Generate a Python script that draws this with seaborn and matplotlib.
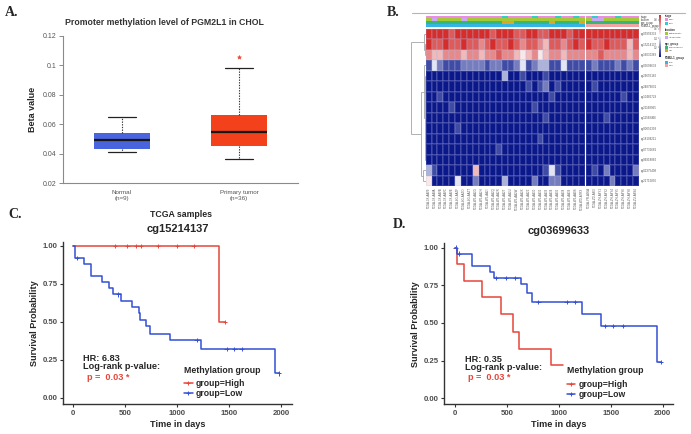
import numpy as np
import pandas as pd
import matplotlib
matplotlib.use('Agg')
import matplotlib.pyplot as plt
from matplotlib.colors import LinearSegmentedColormap, ListedColormap
from matplotlib.lines import Line2D
from matplotlib.patches import Rectangle
import seaborn as sns

W, H = 691, 434

# ---------------- A: boxplot statistics
box_groups = ['Normal\n(n=9)', 'Primary tumor\n(n=36)']
box_med = [0.049, 0.055]
box_q1 = [0.043, 0.045]
box_q3 = [0.054, 0.066]
box_lo = [0.041, 0.036]
box_hi = [0.065, 0.098]
box_out = [[], [0.106]]
box_colors = ['#4A64DE', '#F2411B']

# ---------------- B: heatmap (digits = beta value * 10), 27 low + 9 high samples
probes = ['cg05959333', 'cg15214137', 'cg16030369', 'cg03699633', 'cg26655182',
          'cg24879831', 'cg10486729', 'cg21168965', 'cg11569466', 'cg00056393',
          'cg18104211', 'cg07736681', 'cg06918882', 'cg02375408', 'cg21715896']
beta_rows = [
    '999989999998999889988999899' + '999999999',
    '988988988789889878876887898' + '988988868',
    '766777677677877656756776777' + '778777767',
    '142111222212211241233114111' + '121112121',
    '000000000000030010001000000' + '000000000',
    '000000000000000001012010000' + '010000000',
    '001000000000000000000100000' + '000000100',
    '000010000000000000100000000' + '000000000',
    '000000000000000000001000000' + '000100000',
    '000001000000000000000000000' + '000000000',
    '000000000000000000010000000' + '000000000',
    '000000000000100000000000000' + '000000000',
    '000000000000000000000000000' + '000000000',
    '310000006000000000001410000' + '010200002',
    '500004002000030000200220000' + '000020000',
]
samples = ['TCGA-3X-AAV9', 'TCGA-3X-AAVA', 'TCGA-3X-AAVB', 'TCGA-3X-AAVC', 'TCGA-3X-AAVE',
           'TCGA-4G-AAZF', 'TCGA-4G-AAZO', 'TCGA-4G-AAZT', 'TCGA-W5-AA2G', 'TCGA-W5-AA2H',
           'TCGA-W5-AA2I', 'TCGA-W5-AA2Q', 'TCGA-W5-AA2R', 'TCGA-W5-AA2T', 'TCGA-W5-AA2U',
           'TCGA-W5-AA2W', 'TCGA-W5-AA2X', 'TCGA-W5-AA2Z', 'TCGA-W5-AA30', 'TCGA-W5-AA31',
           'TCGA-W5-AA33', 'TCGA-W5-AA34', 'TCGA-W5-AA36', 'TCGA-W5-AA38', 'TCGA-W5-AA39',
           'TCGA-W6-AA0S', 'TCGA-WD-A7RX', 'TCGA-YR-A95A', 'TCGA-ZD-A8I3', 'TCGA-ZH-A8Y1',
           'TCGA-ZH-A8Y2', 'TCGA-ZH-A8Y4', 'TCGA-ZH-A8Y5', 'TCGA-ZH-A8Y6', 'TCGA-ZH-A8Y8',
           'TCGA-ZU-A8S4']
n_low = 27
ann_names = ['stage', 'location', 'age_group', 'PGM2L1_group']
ann_stage = '000000000000010000100010010010001000'
ann_location = '010000100000000000000000000011000000'
ann_age = '000000000000011000000100001000000000'
ann_group = '0' * n_low + '1' * 9
ann_levels = [['Early', 'Late'], ['Extrahepatic', 'Intrahepatic'],
              ['Young/middle', 'Old'], ['Low', 'High']]
ann_colors = ['#EE8CE2', '#33CCCC', '#A3C933', '#C9A8F2',
              '#33B878', '#DDA624', '#35B4E6', '#F2A4A4']

# ---------------- C / D: Kaplan-Meier step points and censor times
c_high_t = [0, 1408, 1466]
c_high_s = [1.0, 0.5, 0.5]
c_high_cens = [406, 526, 612, 658, 816, 1000, 1160, 1460]
c_low_t = [0, 19, 108, 179, 281, 348, 390, 460, 566, 633, 646, 703, 742, 934, 1228, 1945, 1985]
c_low_s = [1.0, 0.92, 0.88, 0.80, 0.76, 0.72, 0.68, 0.64, 0.60, 0.56, 0.515, 0.47, 0.42,
           0.38, 0.32, 0.16, 0.16]
c_low_cens = [44, 438, 1190, 1478, 1552, 1622, 1982]

d_high_t = [0, 16, 90, 263, 440, 556, 617, 925, 1043]
d_high_s = [1.0, 0.89, 0.78, 0.67, 0.56, 0.44, 0.33, 0.22, 0.22]
d_high_cens = []
d_low_t = [0, 16, 167, 337, 379, 636, 690, 738, 1220, 1404, 1943, 1982]
d_low_s = [1.0, 0.96, 0.88, 0.84, 0.80, 0.76, 0.70, 0.64, 0.56, 0.48, 0.24, 0.24]
d_low_cens = [6, 39, 395, 491, 581, 803, 1076, 1156, 1445, 1525, 1616, 1980]

km_pal = {'group=High': '#E6473B', 'group=Low': '#3450D4'}

sns.set_style('white')
plt.rcParams['font.family'] = ['Liberation Sans', 'DejaVu Sans']

fig = plt.figure(figsize=(W / 100, H / 100), dpi=100)


def rect(x0, y0, x1, y1):
    # pixel box (top-left origin) -> figure fraction
    return [x0 / W, 1 - y1 / H, (x1 - x0) / W, (y1 - y0) / H]


def letter(x, y, s):
    fig.text(x / W, 1 - y / H, s, family=['Liberation Serif'], fontweight='bold',
             fontsize=10, va='center', ha='left')


# ================= A
axA = fig.add_axes(rect(63, 36, 298, 183))
stats = []
for i in range(2):
    stats.append(dict(med=box_med[i], q1=box_q1[i], q3=box_q3[i], whislo=box_lo[i],
                      whishi=box_hi[i], fliers=box_out[i], label=box_groups[i]))
bp = axA.bxp(stats, positions=[0, 1], widths=0.48, patch_artist=True, capwidths=0.24,
             boxprops=dict(linewidth=0),
             medianprops=dict(color='#151515', linewidth=1.6),
             whiskerprops=dict(color='#333333', linewidth=0.8, linestyle=(0, (1.2, 1.2))),
             capprops=dict(color='#222222', linewidth=0.9),
             flierprops=dict(marker='*', markersize=3, markerfacecolor='#E8453C',
                             markeredgecolor='#E8453C', markeredgewidth=0.4))
for patch, col in zip(bp['boxes'], box_colors):
    patch.set_facecolor(col)
axA.set_xlim(-0.5, 1.5)
axA.set_ylim(0.02, 0.12)
axA.set_yticks([0.02, 0.04, 0.06, 0.08, 0.1, 0.12])
axA.set_yticklabels(['0.02', '0.04', '0.06', '0.08', '0.1', '0.12'])
for sp in ['top', 'right']:
    axA.spines[sp].set_visible(False)
for sp in ['left', 'bottom']:
    axA.spines[sp].set_color('#8a8a8a')
    axA.spines[sp].set_linewidth(0.8)
axA.tick_params(axis='y', length=3, width=0.7, color='#8a8a8a', labelsize=5,
                labelcolor='#555555', pad=1.5, left=True)
axA.tick_params(axis='x', length=0, labelsize=4.5, labelcolor='#555555', pad=5)
for lab in axA.get_xticklabels():
    lab.set_linespacing(1.3)
axA.set_ylabel('Beta value', fontsize=6.5, fontweight='bold')
axA.yaxis.set_label_coords(-0.11, 0.5)
axA.set_xlabel('TCGA samples', fontsize=6.3, fontweight='bold')
axA.xaxis.set_label_coords(0.502, -0.185)
fig.text(164 / W, 1 - 22.7 / H, 'Promoter methylation level of PGM2L1 in CHOL',
         fontsize=6.3, fontweight='bold', color='#333333', ha='center', va='center')
letter(5, 13, 'A.')

# ================= B
beta = np.array([[int(c) / 10 for c in r] for r in beta_rows])
beta_df = pd.DataFrame(beta, index=probes, columns=samples)
ann_codes = np.array([[int(c) + 2 * k for c in s] for k, s in
                      enumerate([ann_stage, ann_location, ann_age, ann_group])])
ann_df = pd.DataFrame(ann_codes, index=ann_names, columns=samples)
heat_cmap = LinearSegmentedColormap.from_list('nwr', ['#0a188a', '#ffffff', '#d42d2a'])
ann_cmap = ListedColormap(ann_colors)

x0, xg, x1 = 425.7, 584.7, 586.0
xe = 639.0
axHL = fig.add_axes(rect(x0, 28.7, xg, 186))
axHR = fig.add_axes(rect(x1, 28.7, xe, 186))
axAL = fig.add_axes(rect(x0, 15.5, xg, 27.2))
axAR = fig.add_axes(rect(x1, 15.5, xe, 27.2))
cax = fig.add_axes(rect(658.7, 15, 661, 56.7))
grid_col = (0.7, 0.72, 0.9, 0.18)

sns.heatmap(beta_df.iloc[:, :n_low], ax=axHL, cmap=heat_cmap, vmin=0, vmax=0.9,
            cbar=False, linewidths=0.12, linecolor=grid_col,
            xticklabels=samples[:n_low], yticklabels=False)
sns.heatmap(beta_df.iloc[:, n_low:], ax=axHR, cmap=heat_cmap, vmin=0, vmax=0.9,
            cbar=True, cbar_ax=cax, linewidths=0.12, linecolor=grid_col,
            xticklabels=samples[n_low:], yticklabels=probes)
sns.heatmap(ann_df.iloc[:, :n_low], ax=axAL, cmap=ann_cmap, vmin=-0.5, vmax=7.5,
            cbar=False, xticklabels=False, yticklabels=False)
sns.heatmap(ann_df.iloc[:, n_low:], ax=axAR, cmap=ann_cmap, vmin=-0.5, vmax=7.5,
            cbar=False, xticklabels=False, yticklabels=False)
for ax in [axHL, axHR]:
    ax.tick_params(axis='x', labelsize=2.1, length=0, labelcolor='#555555', pad=1,
                   labelrotation=90)
    ax.set_xlabel('')
    ax.set_ylabel('')
axHR.yaxis.tick_right()
axHR.tick_params(axis='y', labelsize=2.1, length=0, labelcolor='#555555', pad=1,
                 labelrotation=0)
cax.yaxis.tick_left()
cax.tick_params(labelsize=1.8, length=0.8, width=0.3, pad=0.4, labelcolor='#555555')
cax.set_yticks([0.2, 0.4, 0.6, 0.8])
for sp in cax.spines.values():
    sp.set_visible(False)

# row dendrogram
axD = fig.add_axes(rect(410.5, 28.7, 425.7, 186))
axD.set_xlim(1.0, 0)
axD.set_ylim(len(probes), 0)
axD.axis('off')


def bracket(ya, yb, h, ha=0.0, hb=0.0):
    kw = dict(color='#a3a3a3', lw=0.6, solid_capstyle='butt')
    axD.plot([ha, h], [ya, ya], **kw)
    axD.plot([hb, h], [yb, yb], **kw)
    axD.plot([h, h], [ya, yb], **kw)
    return (ya + yb) / 2


y_r = bracket(0.5, bracket(1.5, 2.5, 0.04), 0.08, 0, 0.04)
y_a = bracket(3.5, bracket(4.5, 12.5, 0.03), 0.12, 0, 0.03)
y_b = bracket(13.5, 14.5, 0.2)
y_blue = bracket(y_a, y_b, 0.3, 0.12, 0.2)
bracket(y_r, y_blue, 0.95, 0.08, 0.3)

fig.add_artist(Line2D([411.7 / W, 685 / W], [1 - 13.3 / H, 1 - 13.3 / H],
                      color='#b5b5b5', lw=0.8))

# annotation names and legends
axL = fig.add_axes(rect(639, 12, 691, 75))
axL.set_xlim(639, 691)
axL.set_ylim(75, 12)
axL.axis('off')
for k, name in enumerate(ann_names):
    axL.text(640.5, 16.9 + 2.9 * k, name, fontsize=1.9, va='center', color='#333333')
leg_y = [16, 30, 43.5, 58.5]
for k, name in enumerate(ann_names):
    axL.text(665, leg_y[k], name, fontsize=2, fontweight='bold', va='center', color='#333333')
    for j in range(2):
        yy = leg_y[k] + 2.2 + 3.4 * j
        axL.add_patch(Rectangle((665, yy), 3.3, 3.0, color=ann_colors[2 * k + j], lw=0))
        axL.text(669.2, yy + 1.5, ann_levels[k][j], fontsize=1.7, va='center', color='#444444')
letter(387, 13, 'B.')


# ================= C / D
def km_frame(t, s, label):
    return pd.DataFrame({'time': t, 'surv': s, 'group': label})


def cens_frame(tc, t, s, label):
    idx = np.searchsorted(np.array(t), np.array(tc, dtype=float), side='right') - 1
    return pd.DataFrame({'time': tc, 'surv': np.array(s)[idx], 'group': label})


def km_panel(box, xlim, ylim, title, high, low, hr, txt_x, leg_top):
    ax = fig.add_axes(rect(*box))
    curves = pd.concat([km_frame(high[0], high[1], 'group=High'),
                        km_frame(low[0], low[1], 'group=Low')], ignore_index=True)
    cens = pd.concat([cens_frame(high[2], high[0], high[1], 'group=High'),
                      cens_frame(low[2], low[0], low[1], 'group=Low')], ignore_index=True)
    sns.lineplot(data=curves, x='time', y='surv', hue='group', palette=km_pal,
                 estimator=None, sort=False, drawstyle='steps-post', linewidth=1.1,
                 legend=False, ax=ax)
    sns.scatterplot(data=cens, x='time', y='surv', hue='group', palette=km_pal,
                    marker='+', s=10, linewidth=0.7, legend=False, ax=ax)
    ax.set_xlim(*xlim)
    ax.set_ylim(*ylim)
    ax.set_xticks([0, 500, 1000, 1500, 2000])
    ax.set_yticks([0, 0.25, 0.5, 0.75, 1.0])
    ax.set_yticklabels(['0.00', '0.25', '0.50', '0.75', '1.00'])
    for sp in ['top', 'right']:
        ax.spines[sp].set_visible(False)
    for sp in ['left', 'bottom']:
        ax.spines[sp].set_color('#333333')
        ax.spines[sp].set_linewidth(1.0)
    ax.tick_params(length=2.5, width=0.8, color='#333333', labelsize=5.6,
                   labelcolor='#4d4d4d', pad=1.5, left=True, bottom=True)
    for lab in ax.get_xticklabels() + ax.get_yticklabels():
        lab.set_fontweight('bold')
    ax.set_xlabel('Time in days', fontsize=6.6, fontweight='bold')
    ax.xaxis.set_label_coords(0.5, -0.1)
    ax.set_ylabel('Survival Probability', fontsize=6.6, fontweight='bold')
    ax.yaxis.set_label_coords(-0.106, 0.5)
    ax.text(0.5, 1.077, title, transform=ax.transAxes, fontsize=8, fontweight='bold',
            ha='center', va='center')
    ax.text(txt_x[0], 0.258, 'HR: ' + hr, fontsize=6.6, fontweight='bold', va='center')
    ax.text(txt_x[0], 0.205, 'Log-rank p-value:', fontsize=6.6, fontweight='bold', va='center')
    ax.text(txt_x[1], 0.135, 'p =  0.03 *', fontsize=6.6, fontweight='bold',
            color='#E6473B', va='center')
    handles = [Line2D([0], [0], color=km_pal[g], lw=1.1, marker='+', markersize=3,
                      markeredgewidth=0.7) for g in ['group=High', 'group=Low']]
    leg = ax.legend(handles, ['group=High', 'group=Low'], title='Methylation group',
                    loc='upper left', bbox_to_anchor=(leg_top[0], leg_top[1]),
                    frameon=False, fontsize=6.2, handlelength=1.0, handletextpad=0.35,
                    labelspacing=0.1, borderpad=0, borderaxespad=0, alignment='left',
                    title_fontproperties={'weight': 'bold', 'size': 6.3})
    leg._legend_box.sep = 3.5
    for t in leg.get_texts():
        t.set_fontweight('bold')
    return ax


km_panel((63.3, 241.7, 292, 404), (-90, 2105), (-0.042, 1.028), 'cg15214137',
         (c_high_t, c_high_s, c_high_cens), (c_low_t, c_low_s, c_low_cens), '6.83',
         (102, 140), (0.528, 0.237))
letter(8, 215, 'C.')
km_panel((444.3, 243, 673.3, 404.3), (-103, 2103), (-0.04, 1.031), 'cg03699633',
         (d_high_t, d_high_s, d_high_cens), (d_low_t, d_low_s, d_low_cens), '0.35',
         (96, 128), (0.534, 0.237))
letter(393, 224, 'D.')

fig.savefig('out.png', dpi=100)
